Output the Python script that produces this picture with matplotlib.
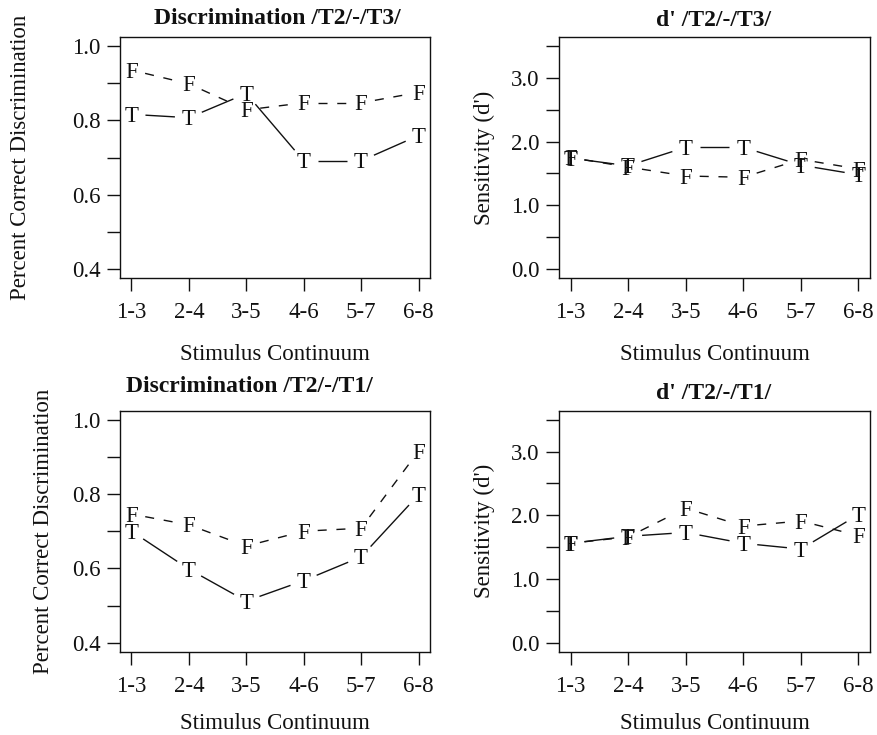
"""Discrimination and d' curves for the /T2/-/T3/ and /T2/-/T1/ continua."""
import numpy as np
import matplotlib
matplotlib.use("Agg")
import matplotlib.pyplot as plt
import matplotlib.transforms as mtransforms

plt.rcParams['font.family'] = ['Liberation Serif', 'DejaVu Serif']

# 数据
pairs = ['1-3', '2-4', '3-5', '4-6', '5-7', '6-8']
steps = [1, 2, 3, 4, 5, 6]

disc_t3_T = [0.816, 0.807, 0.872, 0.691, 0.691, 0.759]
disc_t3_F = [0.935, 0.898, 0.828, 0.847, 0.847, 0.875]
dprime_t3_T = [1.74, 1.62, 1.91, 1.91, 1.63, 1.48]
dprime_t3_F = [1.75, 1.60, 1.46, 1.44, 1.72, 1.57]

disc_t1_T = [0.700, 0.598, 0.512, 0.567, 0.631, 0.798]
disc_t1_F = [0.746, 0.717, 0.660, 0.700, 0.708, 0.915]
dprime_t1_T = [1.56, 1.67, 1.73, 1.56, 1.47, 2.01]
dprime_t1_F = [1.56, 1.66, 2.11, 1.83, 1.91, 1.68]

disc_ticks = [0.4, 0.6, 0.8, 1.0]
disc_minor = [0.5, 0.7, 0.9]
dprime_ticks = [0.0, 1.0, 2.0, 3.0]
dprime_minor = [0.5, 1.5, 2.5, 3.5]

W, H = 877, 735
FS = 16.5
INK = '#111111'
GAP = 14  # px left free around each letter, like R type="b"


def px(x, y):
    """Pixel position (from top-left) to figure fraction."""
    return x / W, 1 - y / H


def draw_series(ax, x, y, letter, dashed):
    """Letters at the points, joined by segments that stop short of them."""
    pts = ax.transData.transform(np.column_stack([x, y]))
    inv = ax.transData.inverted()
    ls = (0, (6.5, 7)) if dashed else '-'
    for p0, p1 in zip(pts[:-1], pts[1:]):
        d = p1 - p0
        length = np.hypot(*d)
        if length <= 2 * GAP:
            continue
        u = d / length
        seg = inv.transform([p0 + u * GAP, p1 - u * GAP])
        ax.plot(seg[:, 0], seg[:, 1], color=INK, lw=1.0, linestyle=ls,
                solid_capstyle='butt', dash_capstyle='butt')
    cap = 0.662 * FS
    trans = mtransforms.offset_copy(ax.transData, fig=ax.figure,
                                    y=-cap / 2, units='points')
    for xi, yi in zip(x, y):
        ax.text(xi, yi, letter, transform=trans, ha='center', va='baseline',
                fontsize=FS, color=INK, clip_on=False)


def make_panel(fig, left, top, width, T, F, ticks, minor, fmt,
               title, title_xy, ylabel, ylabel_x, xlabel_y):
    height = 241
    ax = fig.add_axes([left / W, 1 - (top + height) / H, width / W, height / H])
    lo, hi = ticks[0], max(ticks + minor)
    pad = (hi - lo) * 0.04
    ax.set_ylim(lo - pad, hi + pad)
    ax.set_xlim(0.8, 6.2)

    ax.set_xticks(steps)
    ax.set_xticklabels(pairs)
    ax.set_yticks(ticks)
    ax.set_yticklabels([fmt.format(t) for t in ticks])
    ax.set_yticks(minor, minor=True)
    ax.tick_params(which='both', direction='out', length=9.5, width=1.0,
                   color=INK, labelsize=FS, labelcolor=INK)
    ax.tick_params(axis='x', pad=8)
    ax.tick_params(axis='y', pad=4.5)
    for s in ax.spines.values():
        s.set_linewidth(1.0)
        s.set_color(INK)

    draw_series(ax, steps, T, 'T', dashed=False)
    draw_series(ax, steps, F, 'F', dashed=True)

    fig.text(*px(*title_xy), title, ha='center', va='baseline',
             fontsize=17, fontweight='bold', color=INK)
    fig.text(*px(ylabel_x, top + height / 2), ylabel, rotation=90,
             ha='center', va='center', fontsize=FS, color=INK)
    fig.text(*px(left + width / 2, xlabel_y), 'Stimulus Continuum',
             ha='center', va='baseline', fontsize=FS, color=INK)
    return ax


fig = plt.figure(figsize=(W / 100, H / 100), dpi=100)

make_panel(fig, 120, 37, 310, disc_t3_T, disc_t3_F, disc_ticks, disc_minor,
           '{:.1f}', 'Discrimination /T2/-/T3/', (277.5, 24),
           'Percent Correct Discrimination', 21, 360)
make_panel(fig, 559, 37, 311, dprime_t3_T, dprime_t3_F, dprime_ticks,
           dprime_minor, '{:.1f}', "d' /T2/-/T3/", (713.5, 26),
           "Sensitivity (d')", 484, 360)
make_panel(fig, 120, 410.7, 310, disc_t1_T, disc_t1_F, disc_ticks, disc_minor,
           '{:.1f}', 'Discrimination /T2/-/T1/', (249, 392),
           'Percent Correct Discrimination', 44, 729)
make_panel(fig, 559, 410.7, 311, dprime_t1_T, dprime_t1_F, dprime_ticks,
           dprime_minor, '{:.1f}', "d' /T2/-/T1/", (713.5, 399),
           "Sensitivity (d')", 484, 729)

fig.savefig('out.png', dpi=100)
